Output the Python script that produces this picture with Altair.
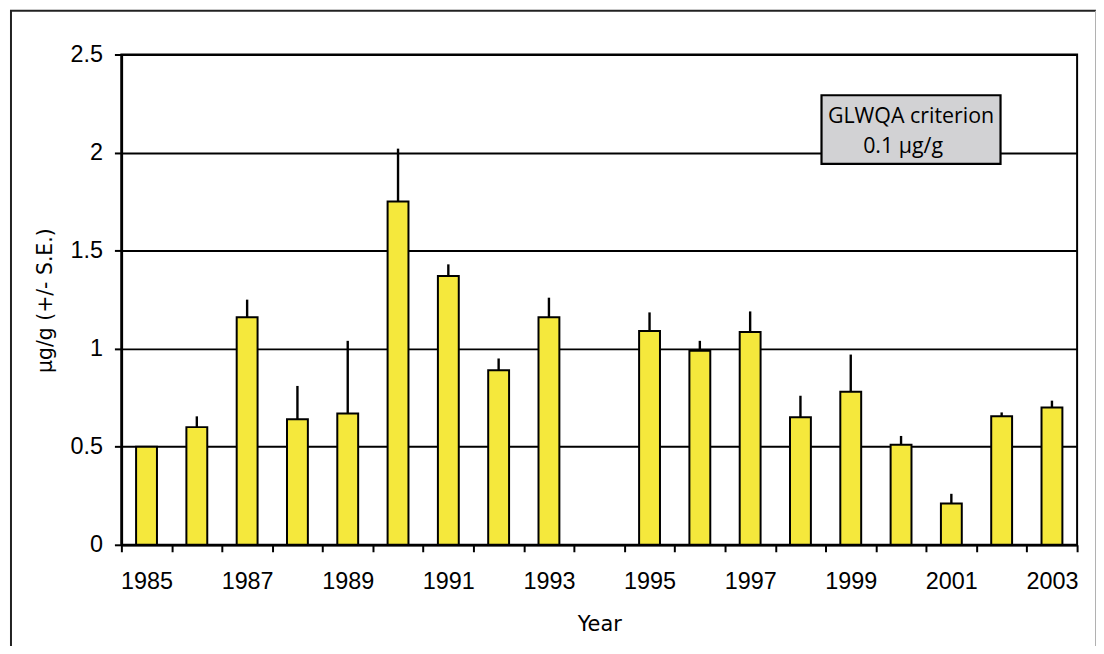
import altair as alt
import pandas as pd

# ---- data ----
all_years = [str(y) for y in range(1985, 2004)]
years = ["1985", "1986", "1987", "1988", "1989", "1990", "1991", "1992", "1993",
         "1995", "1996", "1997", "1998", "1999", "2000", "2001", "2002", "2003"]
means = [0.50, 0.60, 1.16, 0.64, 0.67, 1.75, 1.37, 0.89, 1.16,
         1.09, 0.99, 1.085, 0.65, 0.78, 0.51, 0.21, 0.655, 0.70]
se = [0.00, 0.055, 0.09, 0.17, 0.37, 0.27, 0.06, 0.06, 0.10,
      0.095, 0.05, 0.105, 0.11, 0.19, 0.045, 0.05, 0.02, 0.035]
y_ticks = [0, 0.5, 1, 1.5, 2, 2.5]
note_lines = ["GLWQA criterion", "0.1 µg/g"]

df = pd.DataFrame({"year": years, "mean": means, "se": se})
df["upper"] = df["mean"] + df["se"]

BAR = "#F5E83C"
LABEL_FONT = "Liberation Sans"
TITLE_FONT = "DejaVu Sans"

x_enc = alt.X(
    "year:O",
    scale=alt.Scale(domain=all_years, paddingInner=0, paddingOuter=0),
    axis=alt.Axis(
        title="Year",
        labelAngle=0,
        tickBand="extent",
        labelExpr="toNumber(datum.value) % 2 == 1 ? datum.label : ''",
        labelFont=LABEL_FONT, labelFontSize=23.5, labelColor="#000",
        labelPadding=18, tickSize=7, tickWidth=2, tickColor="#000",
        domainColor="#000", domainWidth=2.5,
        titleFont=TITLE_FONT, titleFontSize=21, titleFontWeight="normal",
        titleColor="#000", titleY=80, titleBaseline="middle",
        grid=False,
    ),
)

y_scale = alt.Scale(domain=[0, 2.5], nice=False)
y_axis = alt.Axis(
    title="µg/g (+/- S.E.)",
    values=y_ticks,
    format="~g",
    labelFont=LABEL_FONT, labelFontSize=23.5, labelColor="#000",
    labelPadding=12, tickSize=7, tickWidth=2, tickColor="#000",
    domainColor="#000", domainWidth=2.5,
    grid=True, gridColor="#000", gridWidth=2, gridOpacity=1,
    titleFont=TITLE_FONT, titleFontSize=20.5, titleFontWeight="normal",
    titleColor="#000", titleX=-76, titleY=247, titleBaseline="middle",
    titleAngle=270,
)

bars = alt.Chart(df).mark_bar(
    width=alt.RelativeBandSize(0.415), fill=BAR, stroke="#000", strokeWidth=2
).encode(
    x=x_enc,
    y=alt.Y("mean:Q", scale=y_scale, axis=y_axis),
)

errs = alt.Chart(df).mark_rule(color="#000", strokeWidth=2.4).encode(
    x=alt.X("year:O"),
    y=alt.Y("mean:Q"),
    y2=alt.Y2("upper:Q"),
)

one = pd.DataFrame({"k": [0]})

note_box = alt.Chart(one).mark_rect(
    fill="#D2D2D4", stroke="#000", strokeWidth=2.2
).encode(
    x=alt.value(704), x2=alt.value(884), y=alt.value(41), y2=alt.value(110)
)
note1 = alt.Chart(one).mark_text(
    text=note_lines[0], font="Open Sans", fontSize=21.5, color="#000",
    align="center", baseline="alphabetic"
).encode(x=alt.value(794), y=alt.value(69))
note2 = alt.Chart(one).mark_text(
    text=note_lines[1], font="Open Sans", fontSize=21.5, color="#000",
    align="center", baseline="alphabetic"
).encode(x=alt.value(786), y=alt.value(99))

frame_top = alt.Chart(one).mark_rule(color="#222", strokeWidth=2).encode(
    x=alt.value(-112), x2=alt.value(990), y=alt.value(-44)
)
frame_left = alt.Chart(one).mark_rule(color="#222", strokeWidth=2).encode(
    x=alt.value(-111), y=alt.value(-44), y2=alt.value(620)
)
frame_right = alt.Chart(one).mark_rule(color="#B0B0B0", strokeWidth=1).encode(
    x=alt.value(979.5), y=alt.value(-44), y2=alt.value(620)
)

chart = alt.layer(
    bars, errs, note_box, note1, note2, frame_top, frame_left, frame_right
).properties(
    width=961, height=493,
    padding={"left": 114, "top": 45, "right": 19, "bottom": 100},
    autosize=alt.AutoSizeParams(type="none"),
    background="white",
).configure_view(stroke="#000", strokeWidth=2)

chart.save("out.html", embed_options={"renderer": "svg", "actions": False})
